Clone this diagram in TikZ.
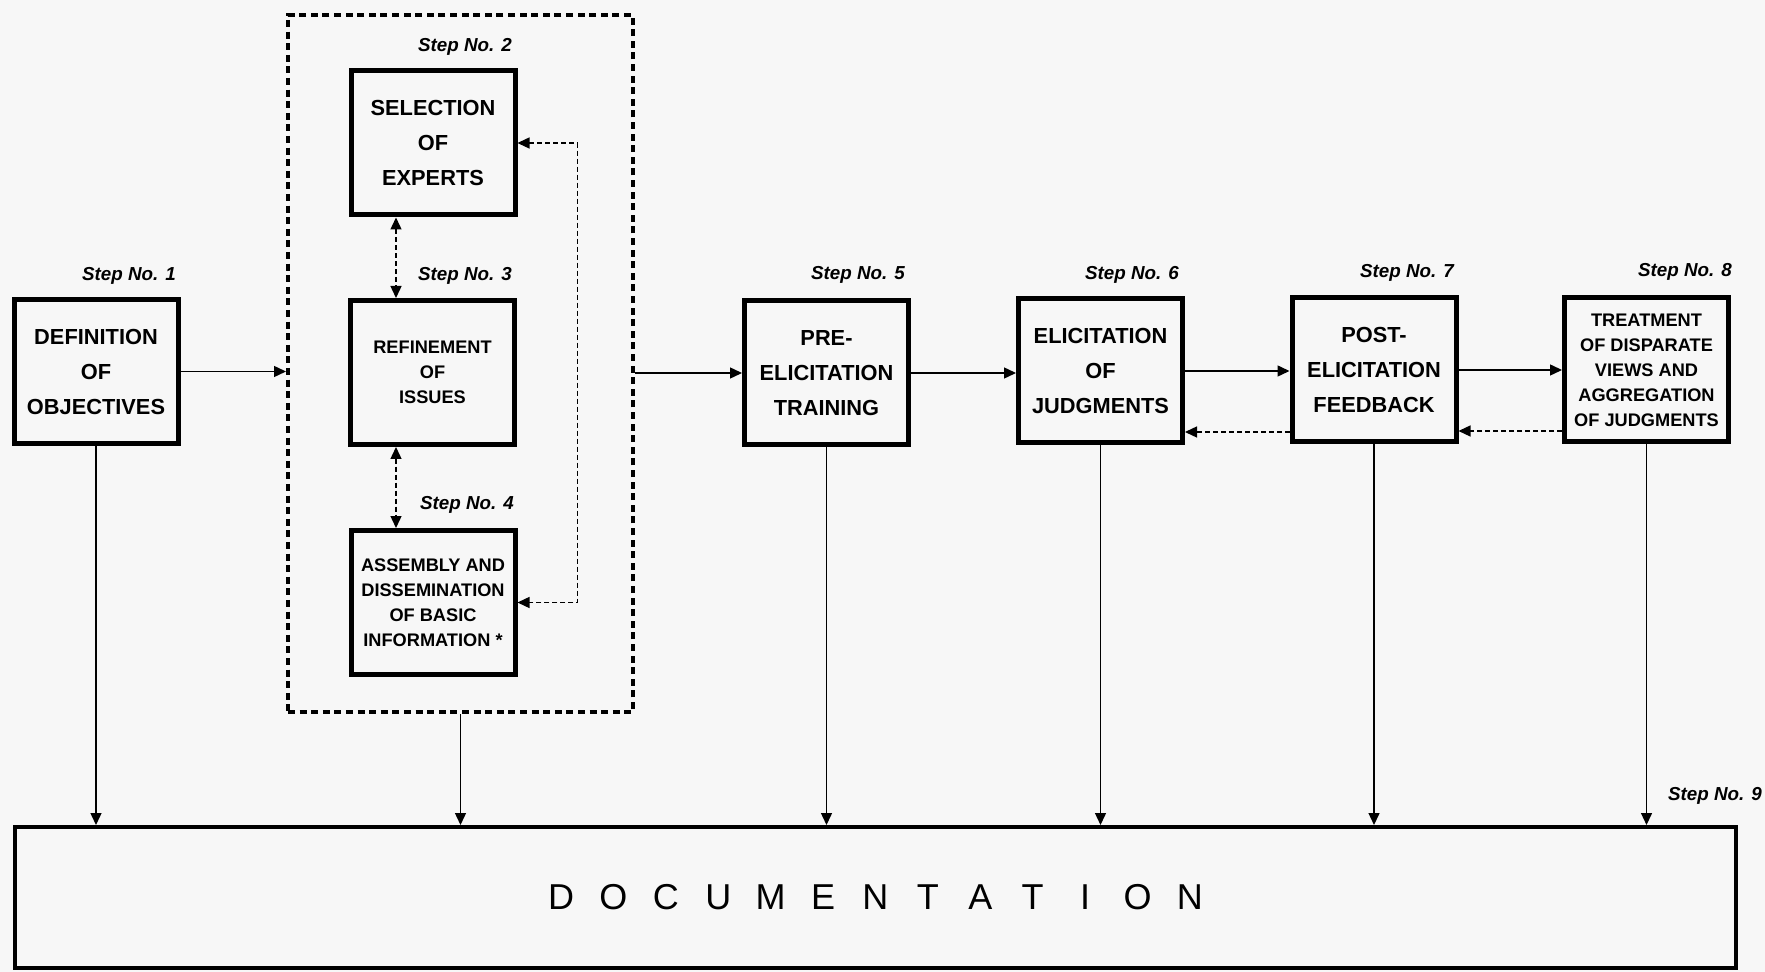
\documentclass[tikz,border=0pt]{standalone}
\usepackage{fontspec}
\setmainfont{Liberation Sans}
\usetikzlibrary{arrows.meta}
\definecolor{bg}{RGB}{247,247,247}
\newcommand{\DLet}[1]{\makebox[26.2pt]{#1}}
\begin{document}
\begin{tikzpicture}[x=0.5pt,y=-0.5pt,
  >={Triangle[length=6pt,width=5.5pt]},
  box/.style={draw, line width=2.5pt, minimum width=82pt, minimum height=72pt, inner sep=0pt, align=center, font=\fontsize{10.9}{17.5}\selectfont\bfseries},
  smallbox/.style={box, font=\fontsize{9.1}{12.5}\selectfont\bfseries},
  steplabel/.style={font=\fontsize{9.4}{11}\selectfont\bfseries\itshape, inner sep=0pt},
  conn/.style={line width=0.7pt, ->},
  dconn/.style={line width=0.7pt, dash pattern=on 2.5pt off 1.5pt, ->},
]
\fill[bg] (0,0) rectangle (1765,972);
\useasboundingbox (0,0) rectangle (1765,972);

% group of steps 2-4
\node[draw, line width=2pt, dash pattern=on 3.5pt off 2.3pt, minimum width=172.5pt, minimum height=348.5pt, inner sep=0pt] (grp) at (460.5,363.5) {};

\node[box] (b1) at (96,371.5) {DEFINITION\\OF\\OBJECTIVES};
\node[box] (b2) at (433,143) {SELECTION\\OF\\EXPERTS};
\node[smallbox] (b3) at (432.5,372.5) {REFINEMENT\\OF\\ISSUES};
\node[smallbox] (b4) at (433,602.5) {ASSEMBLY AND\\DISSEMINATION\\OF BASIC\\INFORMATION *};
\node[box] (b5) at (826.5,373) {PRE-\\ELICITATION\\TRAINING};
\node[box] (b6) at (1100.5,371) {ELICITATION\\OF\\JUDGMENTS};
\node[box] (b7) at (1374,370) {POST-\\ELICITATION\\FEEDBACK};
\node[smallbox] (b8) at (1646.5,370) {TREATMENT\\OF DISPARATE\\VIEWS AND\\AGGREGATION\\OF JUDGMENTS};

\node[draw, line width=2pt, minimum width=860.5pt, minimum height=70.5pt, inner sep=0pt, font=\fontsize{18}{20}\selectfont] (doc) at (875.5,897.5)
  {\DLet{D}\DLet{O}\DLet{C}\DLet{U}\DLet{M}\DLet{E}\DLet{N}\DLet{T}\DLet{A}\DLet{T}\DLet{I}\DLet{O}\DLet{N}};

% step labels
\node[steplabel] (s1) at (129,276) {Step No. 1};
\node[steplabel] (s2) at (465,47) {Step No. 2};
\node[steplabel] (s3) at (465,276) {Step No. 3};
\node[steplabel] (s4) at (467,505) {Step No. 4};
\node[steplabel] (s5) at (858,275) {Step No. 5};
\node[steplabel] (s6) at (1132,275) {Step No. 6};
\node[steplabel] (s7) at (1407,273) {Step No. 7};
\node[steplabel] (s8) at (1685,272) {Step No. 8};
\node[steplabel] (s9) at (1715,796) {Step No. 9};

% main flow
\draw[conn] (b1.east) -- (b1.east -| grp.west);
\draw[conn] (b5.west -| grp.east) -- (b5.west);
\draw[conn] (b5.east) -- (b5.east -| b6.west);
\draw[conn] (b6.east) -- (b6.east -| b7.west);
\draw[conn] (b7.east) -- (b7.east -| b8.west);

% feedback (dashed)
\draw[dconn] (b8.west |- 0,431) -- (b7.east |- 0,431);
\draw[dconn] (b7.west |- 0,432) -- (b6.east |- 0,432);
\draw[dconn, <->] (b2.south -| 396,0) -- (b3.north -| 396,0);
\draw[dconn, <->] (b3.south -| 396,0) -- (b4.north -| 396,0);
\draw[dconn, <->] (b2.east) -- ++(60,0) |- (b4.east);

% to documentation
\foreach \n in {b1,grp,b5,b6,b7,b8}
  \draw[conn] (\n.south) -- (\n.south |- doc.north);
\end{tikzpicture}
\end{document}
